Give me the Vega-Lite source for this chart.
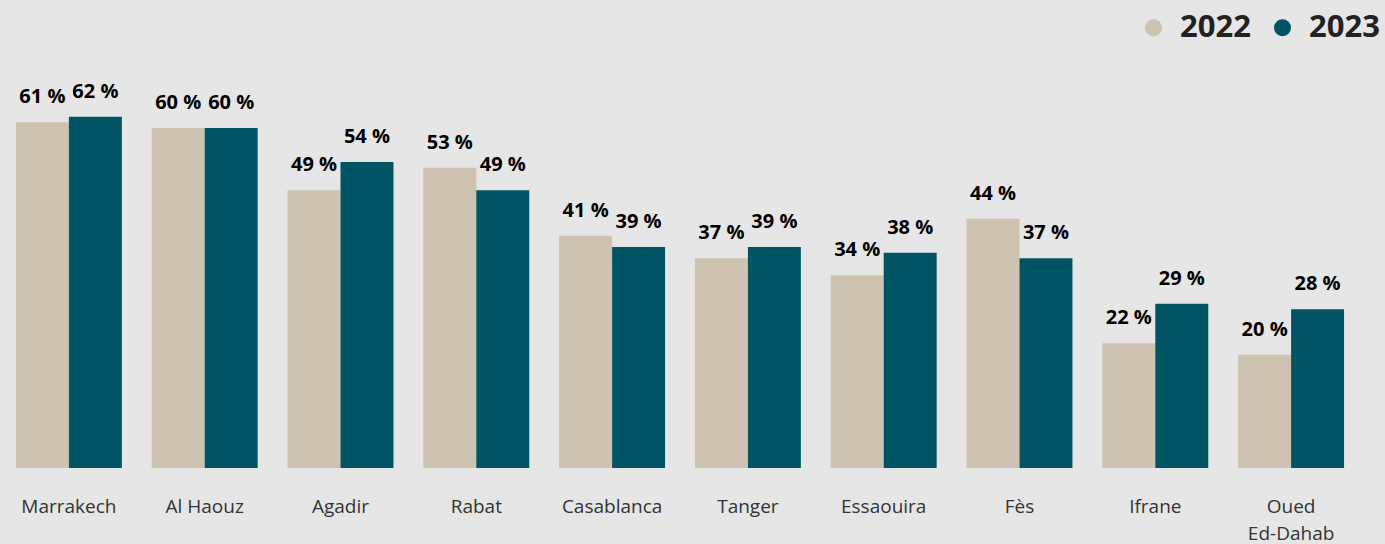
{
  "$schema": "https://vega.github.io/schema/vega-lite/v6.json",
  "width": 1358,
  "height": 408,
  "autosize": "none",
  "padding": {"left": 1, "top": 60, "right": 26, "bottom": 76},
  "background": "#e6e6e6",
  "config": {"view": {"stroke": null}, "font": "Open Sans"},
  "data": {"values": [
    {"city": "Marrakech", "year": "2022", "value": 61},
    {"city": "Marrakech", "year": "2023", "value": 62},
    {"city": "Al Haouz", "year": "2022", "value": 60},
    {"city": "Al Haouz", "year": "2023", "value": 60},
    {"city": "Agadir", "year": "2022", "value": 49},
    {"city": "Agadir", "year": "2023", "value": 54},
    {"city": "Rabat", "year": "2022", "value": 53},
    {"city": "Rabat", "year": "2023", "value": 49},
    {"city": "Casablanca", "year": "2022", "value": 41},
    {"city": "Casablanca", "year": "2023", "value": 39},
    {"city": "Tanger", "year": "2022", "value": 37},
    {"city": "Tanger", "year": "2023", "value": 39},
    {"city": "Essaouira", "year": "2022", "value": 34},
    {"city": "Essaouira", "year": "2023", "value": 38},
    {"city": "Fès", "year": "2022", "value": 44},
    {"city": "Fès", "year": "2023", "value": 37},
    {"city": "Ifrane", "year": "2022", "value": 22},
    {"city": "Ifrane", "year": "2023", "value": 29},
    {"city": "Oued Ed-Dahab", "year": "2022", "value": 20},
    {"city": "Oued Ed-Dahab", "year": "2023", "value": 28}
  ]},
  "transform": [
    {"calculate": "format(datum.value, 'd') + ' %'", "as": "label"}
  ],
  "encoding": {
    "x": {
      "field": "city", "type": "nominal", "sort": null,
      "scale": {"paddingInner": 0.22, "paddingOuter": 0.11},
      "axis": {
        "title": null, "domain": false, "ticks": false, "grid": false,
        "labelAngle": 0, "labelFontSize": 19, "labelColor": "#333333",
        "labelPadding": 38, "labelLineHeight": 27, "labelBaseline": "middle",
        "labelExpr": "datum.label == 'Oued Ed-Dahab' ? ['Oued', 'Ed-Dahab'] : datum.label"
      }
    },
    "xOffset": {"field": "year", "type": "nominal", "scale": {"paddingInner": 0, "paddingOuter": 0}},
    "y": {
      "field": "value", "type": "quantitative",
      "scale": {"domain": [0, 72], "nice": false, "zero": true},
      "axis": null
    }
  },
  "layer": [
    {
      "mark": {"type": "bar"},
      "encoding": {
        "color": {
          "field": "year", "type": "nominal",
          "scale": {"domain": ["2022", "2023"], "range": ["#cdc3b0", "#005463"]},
          "legend": {
            "title": null, "orient": "none", "direction": "horizontal",
            "legendX": 1137, "legendY": -48,
            "symbolType": "circle", "symbolSize": 290, "symbolStrokeWidth": 0,
            "labelFontSize": 31, "labelFontWeight": "bold", "labelColor": "#222222",
            "labelOffset": 11, "columnPadding": 16
          }
        }
      }
    },
    {
      "mark": {"type": "text", "dy": -25, "baseline": "middle", "fontSize": 20, "fontWeight": "bold", "color": "#000000"},
      "encoding": {
        "text": {"field": "label", "type": "nominal"}
      }
    }
  ]
}
